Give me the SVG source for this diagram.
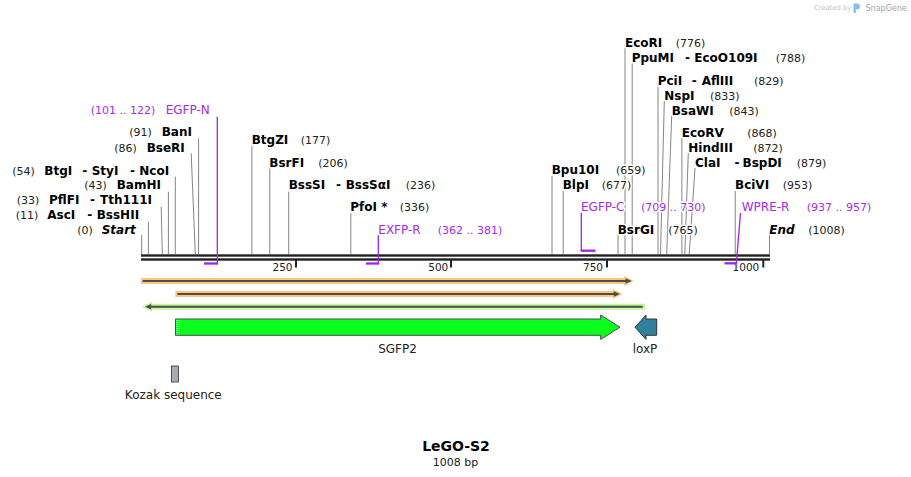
<svg xmlns="http://www.w3.org/2000/svg" width="911" height="477" viewBox="0 0 911 477">
<style>
text{font-family:"DejaVu Sans",Verdana,sans-serif}
.lbl text{paint-order:stroke;stroke:#fff;stroke-width:3;stroke-linejoin:round}
.nm{font-size:12px;font-weight:bold;fill:#000}
.it{font-style:italic}
.ps{font-size:11px;fill:#222}
.pr{font-size:12px;fill:#a52af0}
.prn{font-size:11px;fill:#a52af0}
.tk{font-size:10.5px;fill:#222;text-anchor:end}
.ft{font-size:12px;fill:#222;text-anchor:middle}
.cut{stroke:#858585;stroke-width:1;fill:none}
.pl{stroke:#a020f0;stroke-width:1.3;fill:none}
.pb{stroke:#a020f0;stroke-width:2.3;fill:none}
.bb{fill:#222}
.orh{stroke:#fbc87e;stroke-width:6;fill:none}
.grh{stroke:#c3f59d;stroke-width:6;fill:none}
.dk{stroke:#4d4d4d;stroke-width:2;fill:none}
</style>

<!-- watermark -->
<g id="watermark">
<text x="814" y="10" style="font-size:6.8px;fill:#c2c2c2">Created by</text>
<path d="M853.5 3.5h3.5a3 3 0 0 1 0 6h-1.2v3.5h-2.3z" fill="#86c0ec"/>
<text x="865.5" y="10.5" style="font-size:8px;fill:#9ea6ae">SnapGene</text>
</g>

<!-- backbone -->
<g id="backbone">
<rect class="bb" x="141" y="254.3" width="629" height="2.4"/>
<rect class="bb" x="141" y="258.3" width="629" height="2.4"/>
<rect class="bb" x="295" y="260" width="2" height="7.5"/>
<rect class="bb" x="450" y="260" width="2" height="7.5"/>
<rect class="bb" x="606" y="260" width="2" height="7.5"/>
<rect class="bb" x="762.3" y="260" width="2" height="7.5"/>
<text class="tk" x="292.5" y="271">250</text>
<text class="tk" x="448.3" y="271">500</text>
<text class="tk" x="603" y="271">750</text>
<text class="tk" x="759.3" y="271">1000</text>
</g>

<!-- connectors -->
<g id="connectors">
<path class="cut" d="M141.7 235V254"/>
<path class="cut" d="M148.4 221.7V254"/>
<path class="cut" d="M161.2 206.7L162.3 254"/>
<path class="cut" d="M168.4 191.7V254"/>
<path class="cut" d="M175.3 176.7V254"/>
<path class="cut" d="M191.2 153.3L195.3 254"/>
<path class="cut" d="M198.6 138.3V254"/>
<path class="cut" d="M251.9 146V254"/>
<path class="cut" d="M269.8 168.3V254"/>
<path class="cut" d="M288.7 191.7V254"/>
<path class="cut" d="M350.8 213.3V254"/>
<path class="cut" d="M552 176V254"/>
<path class="cut" d="M563.2 191V254"/>
<path class="cut" d="M618 235V254"/>
<path class="cut" d="M625 48.3V254"/>
<path class="cut" d="M632.2 63.3V254"/>
<path class="cut" d="M658 86.7V254"/>
<path class="cut" d="M664.3 101L660.5 254"/>
<path class="cut" d="M671.7 116L666.7 254"/>
<path class="cut" d="M681.9 138V254"/>
<path class="cut" d="M688.3 153L684.8 254"/>
<path class="cut" d="M695 168L689.2 254"/>
<path class="cut" d="M735.2 191V254"/>
<path class="cut" d="M769.5 235V254"/>
<!-- primers -->
<path class="pl" d="M217.3 116.7V264.3"/>
<path class="pb" d="M204 263.5H218"/>
<path class="pl" d="M378.3 235V264.3"/>
<path class="pb" d="M366 263.5H379"/>
<path class="pl" d="M581.3 212.7V251"/>
<path class="pb" d="M580.7 250.7H595.5"/>
<path class="pl" d="M740.5 213L736.4 263"/>
<path class="pb" d="M724.5 263.3H737"/>
</g>

<!-- left cluster labels -->
<g id="primer-EGFP-N" class="lbl"><text y="114"><tspan class="prn" x="90.7">(101 .. 122)</tspan><tspan class="pr" x="165.7">EGFP-N</tspan></text></g>
<g id="cut-BanI" class="lbl"><text y="136"><tspan class="ps" x="129.3">(91)</tspan><tspan class="nm" x="161.7">BanI</tspan></text></g>
<g id="cut-BseRI" class="lbl"><text y="151.5"><tspan class="ps" x="114.3">(86)</tspan><tspan class="nm" x="146.7">BseRI</tspan></text></g>
<g id="cut-NcoI" class="lbl"><text y="174.5"><tspan class="ps" x="12.3">(54)</tspan><tspan class="nm" x="44.3">BtgI</tspan><tspan class="nm" x="82.3">-</tspan><tspan class="nm" x="91.7">StyI</tspan><tspan class="nm" x="130">-</tspan><tspan class="nm" x="139.3">NcoI</tspan></text></g>
<g id="cut-BamHI" class="lbl"><text y="189"><tspan class="ps" x="84.3">(43)</tspan><tspan class="nm" x="116.7">BamHI</tspan></text></g>
<g id="cut-PflFI" class="lbl"><text y="204"><tspan class="ps" x="16.7">(33)</tspan><tspan class="nm" x="49">PflFI</tspan><tspan class="nm" x="90">-</tspan><tspan class="nm" x="100">Tth111I</tspan></text></g>
<g id="cut-AscI" class="lbl"><text y="219"><tspan class="ps" x="15.7">(11)</tspan><tspan class="nm" x="47.3">AscI</tspan><tspan class="nm" x="87.3">-</tspan><tspan class="nm" x="96.7">BssHII</tspan></text></g>
<g id="start" class="lbl"><text y="234"><tspan class="ps" x="77.3">(0)</tspan><tspan class="nm it" x="101.7">Start</tspan></text></g>

<!-- middle labels -->
<g id="cut-BtgZI" class="lbl"><text y="144"><tspan class="nm" x="251.7">BtgZI</tspan><tspan class="ps" x="300.7">(177)</tspan></text></g>
<g id="cut-BsrFI" class="lbl"><text y="166.5"><tspan class="nm" x="269.3">BsrFI</tspan><tspan class="ps" x="318.3">(206)</tspan></text></g>
<g id="cut-BssSI" class="lbl"><text y="189"><tspan class="nm" x="288.7">BssSI</tspan><tspan class="nm" x="336">-</tspan><tspan class="nm" x="345.7">BssSαI</tspan><tspan class="ps" x="405.7">(236)</tspan></text></g>
<g id="cut-PfoI" class="lbl"><text y="210.5"><tspan class="nm" x="350.3">PfoI *</tspan><tspan class="ps" x="399.7">(336)</tspan></text></g>
<g id="primer-EXFP-R" class="lbl"><text y="234"><tspan class="pr" x="378.3">EXFP-R</tspan><tspan class="prn" x="437.7">(362 .. 381)</tspan></text></g>

<!-- right labels -->
<g id="cut-Bpu10I" class="lbl"><text y="174"><tspan class="nm" x="551.7">Bpu10I</tspan><tspan class="ps" x="616">(659)</tspan></text></g>
<g id="cut-BlpI" class="lbl"><text y="189"><tspan class="nm" x="562.7">BlpI</tspan><tspan class="ps" x="601.7">(677)</tspan></text></g>
<g id="primer-EGFP-C" class="lbl"><text y="211"><tspan class="pr" x="581">EGFP-C</tspan><tspan class="prn" x="641">(709 .. 730)</tspan></text></g>
<g id="cut-BsrGI" class="lbl"><text y="234"><tspan class="nm" x="617.7">BsrGI</tspan><tspan class="ps" x="668.3">(765)</tspan></text></g>
<g id="cut-EcoRI" class="lbl"><text y="47"><tspan class="nm" x="625">EcoRI</tspan><tspan class="ps" x="675.7">(776)</tspan></text></g>
<g id="cut-PpuMI" class="lbl"><text y="62"><tspan class="nm" x="631.7">PpuMI</tspan><tspan class="nm" x="685">-</tspan><tspan class="nm" x="694.3">EcoO109I</tspan><tspan class="ps" x="775.7">(788)</tspan></text></g>
<g id="cut-PciI" class="lbl"><text y="84.5"><tspan class="nm" x="657.7">PciI</tspan><tspan class="nm" x="691.7">-</tspan><tspan class="nm" x="701.7">AflIII</tspan><tspan class="ps" x="754">(829)</tspan></text></g>
<g id="cut-NspI" class="lbl"><text y="99.5"><tspan class="nm" x="664.3">NspI</tspan><tspan class="ps" x="710">(833)</tspan></text></g>
<g id="cut-BsaWI" class="lbl"><text y="114.5"><tspan class="nm" x="671.7">BsaWI</tspan><tspan class="ps" x="729.3">(843)</tspan></text></g>
<g id="cut-EcoRV" class="lbl"><text y="136.5"><tspan class="nm" x="681.7">EcoRV</tspan><tspan class="ps" x="747.3">(868)</tspan></text></g>
<g id="cut-HindIII" class="lbl"><text y="151.5"><tspan class="nm" x="688.3">HindIII</tspan><tspan class="ps" x="753.3">(872)</tspan></text></g>
<g id="cut-ClaI" class="lbl"><text y="166.5"><tspan class="nm" x="695">ClaI</tspan><tspan class="nm" x="734.5">-</tspan><tspan class="nm" x="742.5">BspDI</tspan><tspan class="ps" x="796.7">(879)</tspan></text></g>
<g id="cut-BciVI" class="lbl"><text y="189"><tspan class="nm" x="735">BciVI</tspan><tspan class="ps" x="782.7">(953)</tspan></text></g>
<g id="primer-WPRE-R" class="lbl"><text y="211"><tspan class="pr" x="741.7">WPRE-R</tspan><tspan class="prn" x="806.7">(937 .. 957)</tspan></text></g>
<g id="end" class="lbl"><text y="234"><tspan class="nm it" x="769.3">End</tspan><tspan class="ps" x="808.3">(1008)</tspan></text></g>

<!-- ORFs -->
<g id="orf-1">
<path class="orh" d="M141 281H626"/>
<polygon points="624,276 634,281 624,286" fill="#fbc87e"/>
<path class="dk" d="M142.7 281H627"/>
<polygon points="625.5,278.3 631.7,281 625.5,283.7" fill="#4d4d4d"/>
</g>
<g id="orf-2">
<path class="orh" d="M175.3 294H614"/>
<polygon points="612.5,289 622.7,294 612.5,299" fill="#fbc87e"/>
<path class="dk" d="M177.3 294H615"/>
<polygon points="613.8,291.3 620,294 613.8,296.7" fill="#4d4d4d"/>
</g>
<g id="orf-3">
<path class="grh" d="M151 306.7H645"/>
<polygon points="152,301.7 141.7,306.7 152,311.7" fill="#c3f59d"/>
<path class="dk" d="M150 306.7H642.7"/>
<polygon points="151.2,304 145,306.7 151.2,309.4" fill="#4d4d4d"/>
</g>

<!-- features -->
<g id="feature-SGFP2">
<polygon points="175.5,319 600.7,319 600.7,315 620,327.2 600.7,339.4 600.7,335.3 175.5,335.3" fill="#0aff1e" stroke="#4a4a4a" stroke-width="1"/>
<path d="M177 320V334.5M179.3 320V334.5" stroke="#fff" stroke-width="0.8" stroke-dasharray="1 1"/>
<text class="ft" x="397.5" y="353">SGFP2</text>
</g>
<g id="feature-loxP">
<polygon points="635,327.2 646,315 646,319 656.7,319 656.7,335.3 646,335.3 646,339.4" fill="#30819b" stroke="#333" stroke-width="1"/>
<text class="ft" x="645" y="352.5">loxP</text>
</g>
<g id="feature-Kozak">
<rect x="171.5" y="366" width="7" height="16" fill="#a6abb3" stroke="#333" stroke-width="0.8"/>
<text class="ft" x="173.3" y="399.3">Kozak sequence</text>
</g>

<!-- title -->
<g id="title">
<text x="456" y="451" style="font-size:14px;font-weight:bold;fill:#000;text-anchor:middle">LeGO-S2</text>
<text x="455.5" y="465.5" style="font-size:11px;fill:#222;text-anchor:middle">1008 bp</text>
</g>
</svg>
